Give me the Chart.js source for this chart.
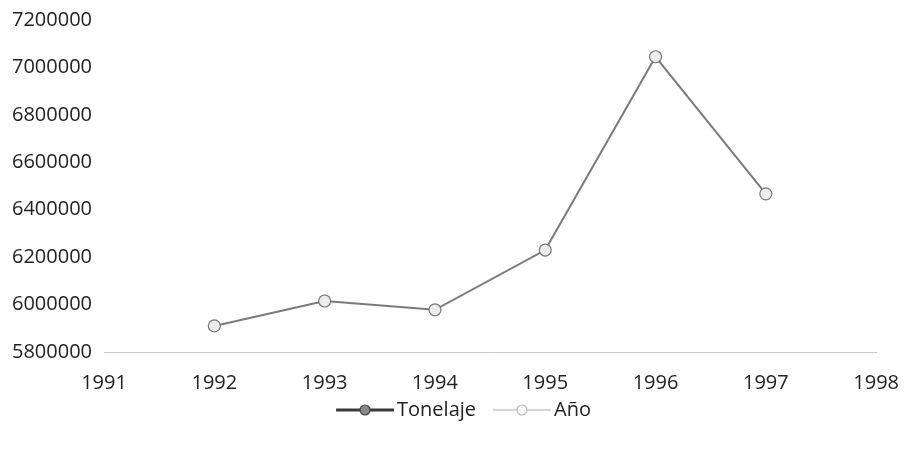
<!DOCTYPE html>
<html>
<head>
<meta charset="utf-8">
<script src="https://cdn.jsdelivr.net/npm/chart.js@4"></script>
<style>
  html, body { margin: 0; padding: 0; background: #fff; }
  #wrap { width: 910px; height: 449px; position: relative; }
</style>
</head>
<body>
<div id="wrap"><canvas id="grafico"></canvas></div>
<script>
// Datos
const anios = ['1991', '1992', '1993', '1994', '1995', '1996', '1997', '1998'];
const tonelaje = [null, 5910000, 6015000, 5978000, 6230000, 7045000, 6467000, null];
const serieAnio = [1991, 1992, 1993, 1994, 1995, 1996, 1997, 1998]; // queda bajo el eje, no se ve
const yMin = 5800000;
const yMax = 7200000;
const yPaso = 200000;

// Icono de leyenda: línea con marcador (margen transparente a la izquierda para separar)
function iconoLeyenda(colorLinea, anchoLinea, colorRelleno, colorBorde) {
    const c = document.createElement('canvas');
    c.width = 74; c.height = 14;
    const ctx = c.getContext('2d');
    ctx.strokeStyle = colorLinea;
    ctx.lineWidth = anchoLinea;
    ctx.beginPath(); ctx.moveTo(16, 7); ctx.lineTo(74, 7); ctx.stroke();
    ctx.beginPath(); ctx.arc(45, 7, 5, 0, Math.PI * 2);
    ctx.fillStyle = colorRelleno; ctx.fill();
    ctx.lineWidth = 1.2; ctx.strokeStyle = colorBorde; ctx.stroke();
    return c;
}

const fuente = { family: '"Open Sans", sans-serif', size: 20 };

new Chart(document.getElementById('grafico'), {
    type: 'line',
    data: {
        labels: anios,
        datasets: [{
            label: 'Tonelaje',
            data: tonelaje,
            borderColor: '#7a7a7a',
            borderWidth: 2,
            pointRadius: 6,
            pointBackgroundColor: '#ececec',
            pointBorderColor: '#777',
            pointBorderWidth: 1.2,
            tension: 0
        }, {
            label: 'Año',
            data: serieAnio,
            borderColor: '#c4c4c4',
            borderWidth: 1.5,
            pointRadius: 6,
            pointBackgroundColor: '#fff',
            pointBorderColor: '#c4c4c4'
        }]
    },
    options: {
        responsive: true,
        maintainAspectRatio: false,
        animation: false,
        layout: { padding: { top: 20, right: 0, left: 8, bottom: 19 } },
        plugins: {
            tooltip: { enabled: false },
            legend: {
                position: 'bottom',
                labels: {
                    usePointStyle: true,
                    pointStyleWidth: 60,
                    color: '#222',
                    font: fuente,
                    padding: 8,
                    generateLabels: chart => chart.data.datasets.map((ds, i) => ({
                        text: ds.label,
                        datasetIndex: i,
                        fontColor: '#222',
                        pointStyle: i === 0
                            ? iconoLeyenda('#3a3a3a', 3, '#8a8a8a', '#444')
                            : iconoLeyenda('#c8c8c8', 1.5, '#fff', '#bbb'),
                        hidden: false,
                        lineWidth: 0
                    }))
                }
            }
        },
        scales: {
            x: {
                offset: false,
                grid: { display: false },
                border: { display: true, color: '#c8c8c8', dash: [2, 6] },
                ticks: { color: '#222', font: fuente, padding: 11, maxRotation: 0 },
                afterFit: s => { s.height -= 14; }
            },
            y: {
                min: yMin,
                max: yMax,
                grid: { display: false },
                border: { display: false },
                ticks: {
                    stepSize: yPaso, color: '#222', font: fuente, padding: 4,
                    callback: v => String(v)
                }
            }
        }
    }
});
</script>
</body>
</html>
